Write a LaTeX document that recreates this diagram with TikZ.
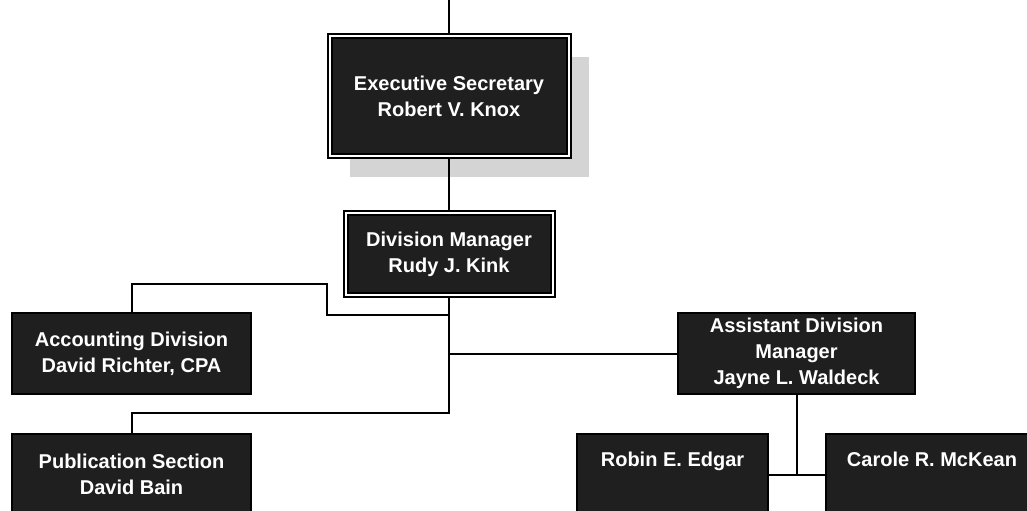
\documentclass[tikz,border=0pt]{standalone}
\usepackage{fontspec}
\newfontfamily\chartfont{Liberation Sans}
\usetikzlibrary{positioning, shadows}

\begin{document}
\begin{tikzpicture}[x=0.5pt, y=-0.5pt,
    box/.style={draw=black, line width=1pt, fill=black!88, text=white, align=center,
        font=\chartfont\bfseries\fontsize{10}{13}\selectfont, inner sep=2pt},
    headbox/.style={box, double=white, double distance=1pt},
    staffbox/.style={box, anchor=north, minimum height=40.5pt, text depth=15pt},
    link/.style={line width=1pt}]
    \useasboundingbox (0,0) rectangle (1027,510);
    \clip (0,0) rectangle (1027,510);
    % leitung
    \node[headbox, minimum width=119.5pt, minimum height=60pt,
        drop shadow={shadow xshift=10pt, shadow yshift=-10.5pt, fill=black!17, opacity=1}]
        (exec) at (449,96) {Executive Secretary\\Robert V. Knox};
    \node[headbox, minimum width=103.5pt, minimum height=41pt]
        (division) at (449,254) {Division Manager\\Rudy J. Kink};
    % abteilungen
    \node[box, minimum width=119.5pt, minimum height=40.5pt]
        (accounting) at (131.5,353.5) {Accounting Division\\David Richter, CPA};
    \node[box, minimum width=118.5pt, minimum height=40.5pt]
        (assistant) at (796.5,353.5) {Assistant Division\\Manager\\Jayne L. Waldeck};
    \node[box, anchor=north, minimum width=119.5pt, minimum height=40.5pt]
        (publication) at (131.5,433) {Publication Section\\David Bain};
    \node[staffbox, minimum width=95.5pt] (robin) at (672.5,433) {Robin E. Edgar};
    \node[staffbox, minimum width=106pt] (carole) at (932,433) {Carole R. McKean};
    % verbindungen
    \coordinate (top) at (449,0);
    \coordinate (trunk) at (449,413);
    \coordinate (accjog) at (449,315);
    \coordinate (accstep) at (327,284);
    \draw[link] (top) -- (exec.north);
    \draw[link] (exec.south) -- (division.north);
    \draw[link] (division.south) -- (trunk) -| (publication.north);
    \draw[link] (accjog) -| (accstep) -| (accounting.north);
    \draw[link] (division.south |- assistant.west) -- (assistant.west);
    \draw[link] (assistant.south) -- (assistant.south |- robin.east);
    \draw[link] (robin.east) -- (carole.west);
\end{tikzpicture}
\end{document}
